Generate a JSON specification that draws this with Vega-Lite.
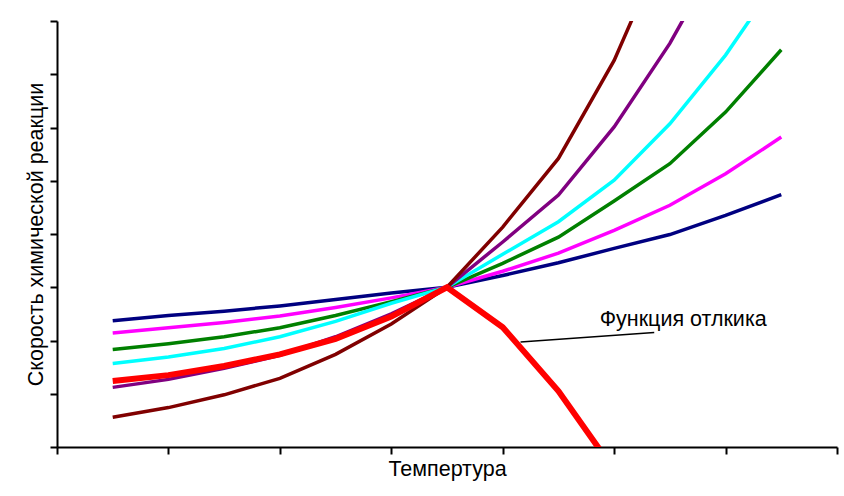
{
  "$schema": "https://vega.github.io/schema/vega-lite/v6.json",
  "width": 780,
  "height": 426,
  "autosize": {"type": "none"},
  "padding": {"left": 57, "top": 21, "right": 7, "bottom": 49},
  "background": "white",
  "config": {
    "view": {"stroke": null},
    "font": "Liberation Sans",
    "axis": {
      "domainColor": "black", "domainWidth": 2, "tickColor": "black", "tickWidth": 2,
      "tickSize": 7, "labels": false, "grid": false,
      "titleFont": "Liberation Sans", "titleFontSize": 21.5, "titleFontWeight": "normal", "titleColor": "black"
    }
  },
  "datasets": {
    "curves": [
      {"series": "s1", "x": 0.5, "y": 2.37}, {"series": "s1", "x": 1.0, "y": 2.47}, {"series": "s1", "x": 1.5, "y": 2.55},
      {"series": "s1", "x": 2.0, "y": 2.65}, {"series": "s1", "x": 2.5, "y": 2.77}, {"series": "s1", "x": 3.0, "y": 2.89},
      {"series": "s1", "x": 3.5, "y": 3.0}, {"series": "s1", "x": 4.0, "y": 3.22}, {"series": "s1", "x": 4.5, "y": 3.46},
      {"series": "s1", "x": 5.0, "y": 3.73}, {"series": "s1", "x": 5.5, "y": 3.99}, {"series": "s1", "x": 6.0, "y": 4.35},
      {"series": "s1", "x": 6.5, "y": 4.74},

      {"series": "s2", "x": 0.5, "y": 2.14}, {"series": "s2", "x": 1.0, "y": 2.24}, {"series": "s2", "x": 1.5, "y": 2.34},
      {"series": "s2", "x": 2.0, "y": 2.46}, {"series": "s2", "x": 2.5, "y": 2.62}, {"series": "s2", "x": 3.0, "y": 2.8},
      {"series": "s2", "x": 3.5, "y": 3.0}, {"series": "s2", "x": 4.0, "y": 3.3}, {"series": "s2", "x": 4.5, "y": 3.64},
      {"series": "s2", "x": 5.0, "y": 4.07}, {"series": "s2", "x": 5.5, "y": 4.54}, {"series": "s2", "x": 6.0, "y": 5.13},
      {"series": "s2", "x": 6.5, "y": 5.82},

      {"series": "s3", "x": 0.5, "y": 1.83}, {"series": "s3", "x": 1.0, "y": 1.94}, {"series": "s3", "x": 1.5, "y": 2.07},
      {"series": "s3", "x": 2.0, "y": 2.24}, {"series": "s3", "x": 2.5, "y": 2.47}, {"series": "s3", "x": 3.0, "y": 2.73},
      {"series": "s3", "x": 3.5, "y": 3.0}, {"series": "s3", "x": 4.0, "y": 3.45}, {"series": "s3", "x": 4.5, "y": 3.94},
      {"series": "s3", "x": 5.0, "y": 4.62}, {"series": "s3", "x": 5.5, "y": 5.32}, {"series": "s3", "x": 6.0, "y": 6.29},
      {"series": "s3", "x": 6.5, "y": 7.46},

      {"series": "s4", "x": 0.5, "y": 1.57}, {"series": "s4", "x": 1.0, "y": 1.69}, {"series": "s4", "x": 1.5, "y": 1.85},
      {"series": "s4", "x": 2.0, "y": 2.07}, {"series": "s4", "x": 2.5, "y": 2.36}, {"series": "s4", "x": 3.0, "y": 2.7},
      {"series": "s4", "x": 3.5, "y": 3.0}, {"series": "s4", "x": 4.0, "y": 3.62}, {"series": "s4", "x": 4.5, "y": 4.23},
      {"series": "s4", "x": 5.0, "y": 5.01}, {"series": "s4", "x": 5.5, "y": 6.07}, {"series": "s4", "x": 6.0, "y": 7.36},
      {"series": "s4", "x": 6.5, "y": 8.88},

      {"series": "s5", "x": 0.5, "y": 1.12}, {"series": "s5", "x": 1.0, "y": 1.27}, {"series": "s5", "x": 1.5, "y": 1.48},
      {"series": "s5", "x": 2.0, "y": 1.72}, {"series": "s5", "x": 2.5, "y": 2.07}, {"series": "s5", "x": 3.0, "y": 2.5},
      {"series": "s5", "x": 3.5, "y": 3.0}, {"series": "s5", "x": 4.0, "y": 3.85}, {"series": "s5", "x": 4.5, "y": 4.73},
      {"series": "s5", "x": 5.0, "y": 6.01}, {"series": "s5", "x": 5.5, "y": 7.58}, {"series": "s5", "x": 6.0, "y": 9.45},

      {"series": "s6", "x": 0.5, "y": 0.56}, {"series": "s6", "x": 1.0, "y": 0.74}, {"series": "s6", "x": 1.5, "y": 0.98},
      {"series": "s6", "x": 2.0, "y": 1.29}, {"series": "s6", "x": 2.5, "y": 1.74}, {"series": "s6", "x": 3.0, "y": 2.31},
      {"series": "s6", "x": 3.5, "y": 3.0}, {"series": "s6", "x": 4.0, "y": 4.13}, {"series": "s6", "x": 4.5, "y": 5.42},
      {"series": "s6", "x": 5.0, "y": 7.26}, {"series": "s6", "x": 5.5, "y": 9.65}
    ],
    "response": [
      {"x": 0.5, "y": 1.24}, {"x": 1.0, "y": 1.35}, {"x": 1.5, "y": 1.52}, {"x": 2.0, "y": 1.74},
      {"x": 2.5, "y": 2.03}, {"x": 3.0, "y": 2.45}, {"x": 3.5, "y": 3.0}, {"x": 4.0, "y": 2.25},
      {"x": 4.5, "y": 1.05}, {"x": 5.0, "y": -0.43}
    ],
    "annotation": [
      {"label": "Функция отлкика", "x": 4.16, "y": 1.97, "x2": 5.36, "y2": 2.15, "tx": 5.62, "ty": 2.38}
    ]
  },
  "layer": [
    {
      "data": {"name": "curves"},
      "mark": {"type": "line", "strokeWidth": 3.5, "clip": true},
      "encoding": {
        "x": {"field": "x", "type": "quantitative", "scale": {"domain": [0, 7], "nice": false, "zero": false},
              "axis": {"values": [0, 1, 2, 3, 4, 5, 6, 7], "title": "Темпертура", "titlePadding": 3}},
        "y": {"field": "y", "type": "quantitative", "scale": {"domain": [0, 8], "nice": false},
              "axis": {"values": [0, 1, 2, 3, 4, 5, 6, 7, 8], "title": "Скорость химической реакции", "titlePadding": 2}},
        "color": {"field": "series", "type": "nominal", "legend": null,
                  "scale": {"domain": ["s1", "s2", "s3", "s4", "s5", "s6"],
                            "range": ["#000080", "#ff00ff", "#008000", "#00ffff", "#800080", "#800000"]}}
      }
    },
    {
      "data": {"name": "response"},
      "mark": {"type": "line", "strokeWidth": 6, "color": "#ff0000", "clip": true},
      "encoding": {
        "x": {"field": "x", "type": "quantitative"},
        "y": {"field": "y", "type": "quantitative"}
      }
    },
    {
      "data": {"name": "annotation"},
      "mark": {"type": "rule", "color": "black", "strokeWidth": 1.5},
      "encoding": {
        "x": {"field": "x", "type": "quantitative"},
        "x2": {"field": "x2"},
        "y": {"field": "y", "type": "quantitative"},
        "y2": {"field": "y2"}
      }
    },
    {
      "data": {"name": "annotation"},
      "mark": {"type": "text", "fontSize": 21.5, "font": "Liberation Sans", "color": "black", "align": "center", "baseline": "middle"},
      "encoding": {
        "x": {"field": "tx", "type": "quantitative"},
        "y": {"field": "ty", "type": "quantitative"},
        "text": {"field": "label"}
      }
    }
  ]
}
